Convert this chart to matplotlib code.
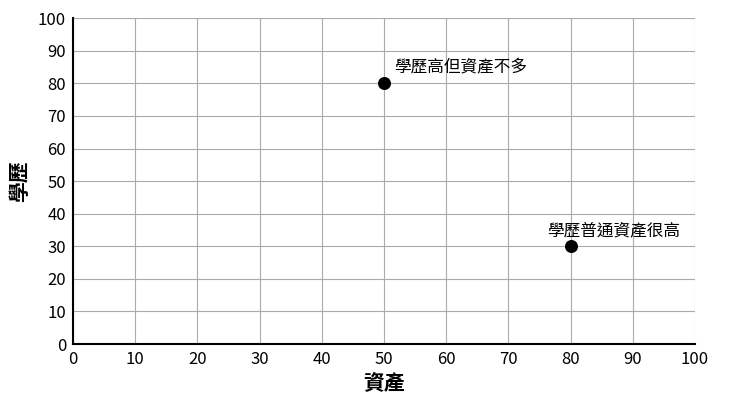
import matplotlib
matplotlib.use('Agg')
import matplotlib.pyplot as plt

plt.rcParams['font.family'] = ['Noto Sans CJK TC', 'DejaVu Sans']

# Data
x_vals = [50, 80]
y_vals = [80, 30]
labels = ['學歷高但資產不多', '學歷普通資產很高']
ticks = list(range(0, 101, 10))

fig = plt.figure(figsize=(7.4, 4.04), dpi=100)
ax = fig.add_axes([0.0986, 0.1485, 0.8405, 0.8065])

ax.scatter(x_vals, y_vals, s=70, color='black', zorder=3)
ax.annotate(labels[0], (x_vals[0], y_vals[0]), xytext=(7, 5), textcoords='offset points',
            fontsize=12, fontweight='medium', ha='left', va='bottom')
ax.annotate(labels[1], (x_vals[1], y_vals[1]), xytext=(-17, 5), textcoords='offset points',
            fontsize=12, fontweight='medium', ha='left', va='bottom')

ax.set_xlim(0, 100)
ax.set_ylim(0, 100)
ax.set_xticks(ticks)
ax.set_yticks(ticks)
ax.tick_params(labelsize=12, length=0, pad=5)
ax.grid(True, color='#aaaaaa', linewidth=0.8)
ax.set_axisbelow(True)
for s in ['top', 'right']:
    ax.spines[s].set_visible(False)
for s in ['left', 'bottom']:
    ax.spines[s].set_linewidth(1.5)
    ax.spines[s].set_color('black')

ax.set_xlabel('資產', fontsize=15, fontweight='bold', labelpad=3)
ax.set_ylabel('學歷', fontsize=15, fontweight='bold', labelpad=6)

fig.savefig('out.png', dpi=100)
